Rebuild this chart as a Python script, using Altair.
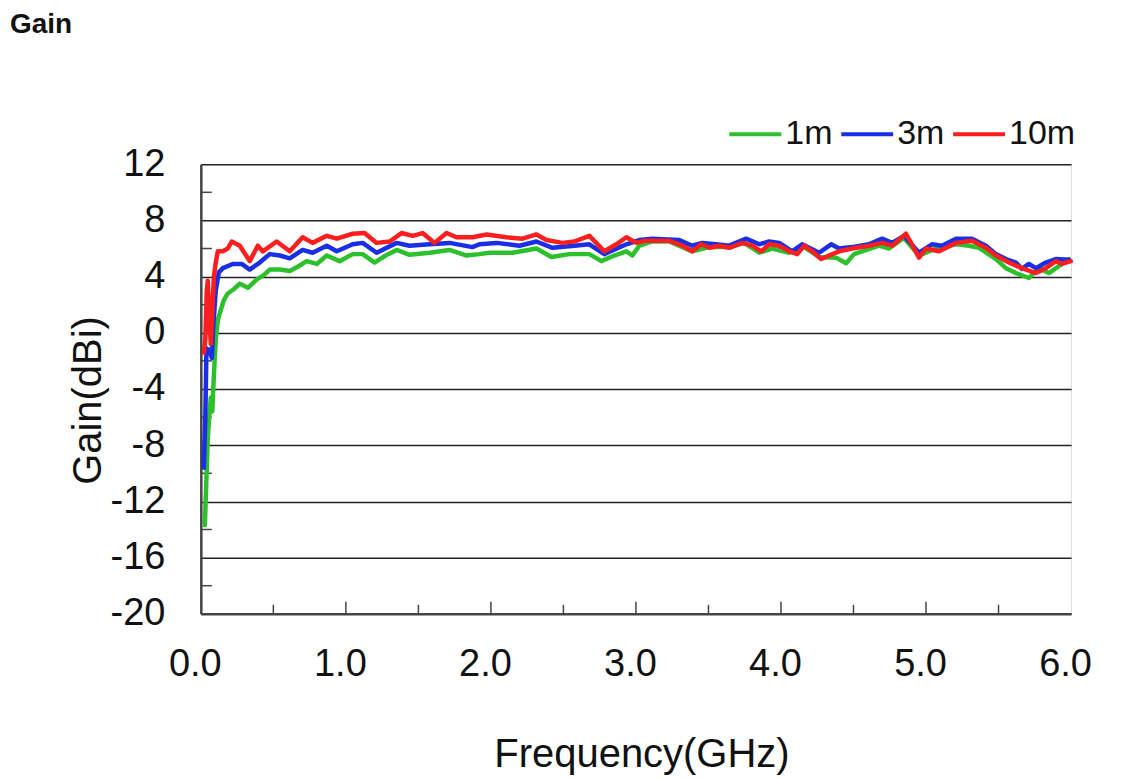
import altair as alt
import pandas as pd

# ---- data ----
f_1m = [0.028, 0.038, 0.048, 0.059, 0.069, 0.079, 0.090, 0.103, 0.117, 0.131, 0.158, 0.186, 0.227,
        0.269, 0.324, 0.386, 0.434, 0.475, 0.544, 0.613, 0.668, 0.730, 0.799, 0.868, 0.957, 1.047,
        1.116, 1.198, 1.274, 1.350, 1.439, 1.577, 1.715, 1.832, 1.921, 1.990, 2.149, 2.314, 2.417,
        2.541, 2.679, 2.762, 2.851, 2.934, 2.975, 3.023, 3.113, 3.230, 3.388, 3.506, 3.643, 3.747,
        3.850, 3.940, 4.057, 4.160, 4.263, 4.380, 4.449, 4.504, 4.559, 4.676, 4.745, 4.848, 4.952,
        5.069, 5.207, 5.296, 5.365, 5.482, 5.551, 5.620, 5.709, 5.778, 5.847, 5.916, 5.985]
g_1m = [-13.7, -10.5, -7.5, -5.8, -4.6, -5.6, -3.0, -0.5, 0.9, 1.4, 2.3, 2.8, 3.1,
        3.5, 3.2, 3.8, 4.1, 4.5, 4.5, 4.4, 4.7, 5.1, 4.9, 5.5, 5.1, 5.6,
        5.6, 5.0, 5.5, 5.9, 5.55, 5.7, 5.9, 5.5, 5.6, 5.7, 5.7, 6.0, 5.4,
        5.6, 5.6, 5.1, 5.5, 5.8, 5.5, 6.2, 6.5, 6.5, 5.8, 6.1, 6.1, 6.4,
        5.7, 6.0, 5.7, 6.1, 5.4, 5.35, 4.95, 5.6, 5.8, 6.2, 6.0, 6.75, 5.5,
        6.0, 6.3, 6.2, 6.05, 5.25, 4.6, 4.25, 3.9, 4.6, 4.25, 4.75, 5.25]

f_3m = [0.021, 0.031, 0.039, 0.048, 0.062, 0.076, 0.086, 0.103, 0.124, 0.152, 0.220, 0.282, 0.337,
        0.406, 0.475, 0.544, 0.613, 0.702, 0.771, 0.868, 0.937, 1.047, 1.116, 1.212, 1.350, 1.439,
        1.577, 1.715, 1.873, 1.921, 2.039, 2.197, 2.314, 2.424, 2.576, 2.679, 2.782, 2.934, 3.023,
        3.113, 3.299, 3.388, 3.457, 3.554, 3.643, 3.760, 3.850, 3.919, 3.988, 4.077, 4.146, 4.263,
        4.346, 4.401, 4.490, 4.607, 4.697, 4.766, 4.848, 4.952, 5.041, 5.110, 5.207, 5.317, 5.413,
        5.482, 5.551, 5.620, 5.661, 5.709, 5.758, 5.826, 5.895, 5.985]
g_3m = [-9.6, -6.0, -1.1, -1.5, -1.2, -1.8, 0.5, 3.0, 4.3, 4.6, 4.9, 4.9, 4.5,
        5.0, 5.6, 5.5, 5.3, 5.9, 5.7, 6.2, 5.8, 6.3, 6.4, 5.7, 6.4, 6.2,
        6.3, 6.4, 6.1, 6.3, 6.4, 6.2, 6.5, 6.05, 6.2, 6.3, 5.6, 6.3, 6.6,
        6.7, 6.6, 6.2, 6.4, 6.3, 6.2, 6.7, 6.3, 6.5, 6.4, 5.8, 6.3, 5.7,
        6.3, 6.0, 6.1, 6.3, 6.7, 6.4, 6.9, 5.7, 6.3, 6.2, 6.7, 6.7, 6.2,
        5.6, 5.25, 5.0, 4.55, 4.9, 4.6, 5.0, 5.25, 5.2]

f_10m = [0.021, 0.031, 0.041, 0.048, 0.059, 0.069, 0.079, 0.090, 0.103, 0.117, 0.152, 0.186, 0.213,
         0.269, 0.337, 0.393, 0.427, 0.523, 0.613, 0.702, 0.771, 0.868, 0.937, 1.047, 1.129, 1.212,
         1.302, 1.384, 1.460, 1.529, 1.612, 1.694, 1.763, 1.873, 1.970, 2.107, 2.218, 2.314, 2.383,
         2.493, 2.576, 2.679, 2.782, 2.865, 2.934, 3.003, 3.058, 3.230, 3.320, 3.388, 3.450, 3.506,
         3.574, 3.643, 3.733, 3.802, 3.864, 3.919, 3.988, 4.057, 4.112, 4.160, 4.215, 4.277, 4.332,
         4.401, 4.490, 4.607, 4.697, 4.766, 4.862, 4.952, 5.000, 5.090, 5.207, 5.317, 5.413, 5.482,
         5.572, 5.661, 5.758, 5.826, 5.895, 5.937, 5.998]
g_10m = [-1.4, -0.5, 3.0, 3.7, 1.0, -0.8, 1.5, 4.0, 5.0, 5.8, 5.8, 6.0, 6.5,
         6.2, 5.1, 6.2, 5.8, 6.5, 5.8, 6.8, 6.4, 6.9, 6.7, 7.05, 7.1, 6.4,
         6.5, 7.1, 6.9, 7.1, 6.4, 7.1, 6.8, 6.8, 7.0, 6.8, 6.7, 7.0, 6.6,
         6.4, 6.5, 6.9, 5.8, 6.3, 6.8, 6.4, 6.55, 6.55, 6.2, 5.8, 6.3, 6.05,
         6.2, 6.05, 6.4, 6.2, 5.8, 6.3, 6.2, 5.8, 5.6, 6.2, 5.8, 5.25, 5.5,
         5.8, 6.0, 6.2, 6.4, 6.2, 7.05, 5.35, 6.0, 5.8, 6.4, 6.55, 6.05, 5.5,
         5.0, 4.6, 4.25, 4.6, 5.1, 4.9, 5.1]

series_names = ["1m", "3m", "10m"]
series_colors = ["#2cc12c", "#1a2ee6", "#fa1e1e"]

x_label_values = [0, 1, 2, 3, 4, 5, 6]
y_label_values = [-20, -16, -12, -8, -4, 0, 4, 8, 12]
y_minor_ticks = [-18, -14, -10, -6, -2, 2, 6, 10]
x_major_ticks = [1, 2, 3, 4, 5]
x_minor_ticks = [0.5, 1.5, 2.5, 3.5, 4.5, 5.5]
header_text = ["Gain"]

FONT = "Liberation Sans"

rows = []
for name, fs, gs in [("1m", f_1m, g_1m), ("3m", f_3m, g_3m), ("10m", f_10m, g_10m)]:
    for i, (f, g) in enumerate(zip(fs, gs)):
        rows.append({"Series": name, "Frequency": f, "Gain": g, "idx": i})
df = pd.DataFrame(rows)

xscale = alt.Scale(domain=[0, 6], nice=False, zero=False)
yscale = alt.Scale(domain=[-20, 12], nice=False, zero=False)

lines = alt.Chart(df).mark_line(strokeWidth=4.5, strokeJoin="round", strokeCap="round").encode(
    x=alt.X("Frequency:Q", scale=xscale,
            axis=alt.Axis(values=x_label_values, format=".1f", grid=False, ticks=False, tickSize=0,
                          tickOffset=-6,
                          labelFontSize=38, labelFont=FONT, labelColor="#111",
                          labelPadding=62, labelBaseline="alphabetic",
                          labelFlush=False, domainColor="#444", domainWidth=2.5,
                          title="Frequency(GHz)", titleFont=FONT, titleFontSize=40,
                          titleFontWeight="normal", titleColor="#111",
                          titleX=441, titleY=153, titleBaseline="alphabetic", titleAlign="center")),
    y=alt.Y("Gain:Q", scale=yscale,
            axis=alt.Axis(values=y_label_values, grid=True, gridColor="#222", gridWidth=1.5,
                          ticks=False, tickSize=0, labelExpr="datum.value + ''",
                          labelFontSize=38, labelFont=FONT, labelColor="#111", labelPadding=36,
                          labelFlush=False, domainColor="#444", domainWidth=2.5,
                          title="Gain(dBi)", titleFont=FONT, titleFontSize=40,
                          titleFontWeight="normal", titleColor="#111",
                          titleX=-100, titleY=236, titleAngle=270, titleAlign="center",
                          titleBaseline="alphabetic")),
    color=alt.Color("Series:N", scale=alt.Scale(domain=series_names, range=series_colors),
                    sort=series_names,
                    legend=alt.Legend(title=None, orient="none", direction="horizontal",
                                      legendX=527, legendY=-58,
                                      symbolType="stroke", symbolStrokeWidth=4, symbolSize=2704,
                                      labelFont=FONT, labelFontSize=34, labelColor="#111",
                                      labelOffset=2, columnPadding=0)),
    detail="Series:N",
    order="idx:Q",
)

ymin_df = pd.DataFrame({"v": y_minor_ticks})
ytick = alt.Chart(ymin_df).mark_rule(color="#444", strokeWidth=1.5).encode(
    y=alt.Y("v:Q", scale=yscale), x=alt.value(0), x2=alt.value(11))

xmaj_df = pd.DataFrame({"v": x_major_ticks})
xtick_major = alt.Chart(xmaj_df).mark_rule(color="#444", strokeWidth=1.5).encode(
    x=alt.X("v:Q", scale=xscale), y=alt.value(450), y2=alt.value(438))

xmin_df = pd.DataFrame({"v": x_minor_ticks})
xtick_minor = alt.Chart(xmin_df).mark_rule(color="#444", strokeWidth=1.5).encode(
    x=alt.X("v:Q", scale=xscale), y=alt.value(450), y2=alt.value(441))

header = alt.Chart(pd.DataFrame({"t": header_text})).mark_text(
    align="left", baseline="alphabetic", font=FONT, fontSize=28, fontWeight="bold", color="#111"
).encode(text="t:N", x=alt.value(-191), y=alt.value(-131))

chart = alt.layer(ytick, xtick_major, xtick_minor, lines, header).properties(
    width=871, height=450,
    padding={"left": 193, "top": 156, "right": 45, "bottom": 162},
    autosize=alt.AutoSizeParams(type="none"),
).configure_view(stroke="#777", strokeWidth=1.5).configure(background="white")

chart.save("out.html", embed_options={"renderer": "svg", "actions": False})
